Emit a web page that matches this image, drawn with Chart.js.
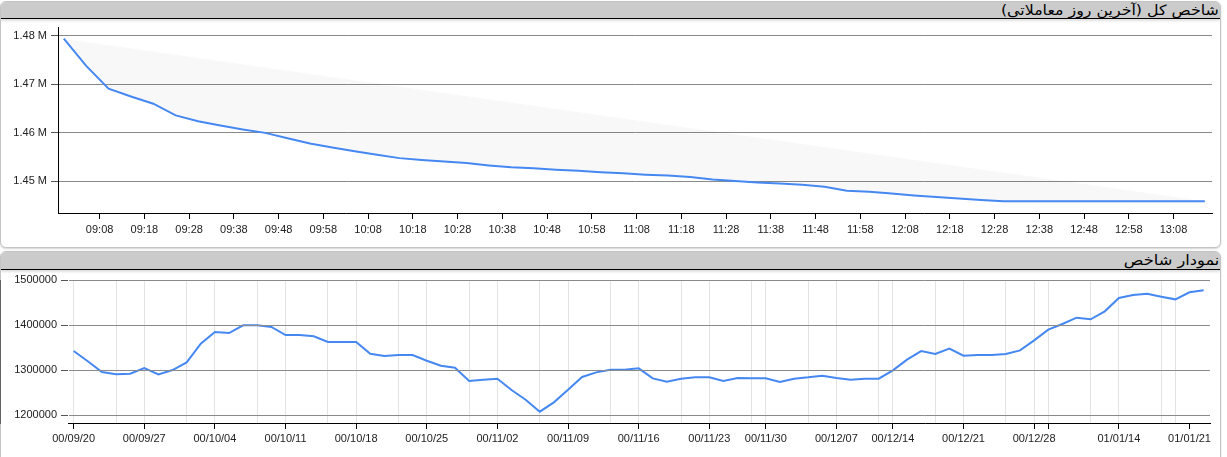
<!DOCTYPE html>
<html>
<head>
<meta charset="utf-8">
<script src="https://cdn.jsdelivr.net/npm/chart.js@4"></script>
<style>
  html,body{margin:0;padding:0;background:#fff;}
  body{width:1227px;height:457px;overflow:hidden;position:relative;font-family:"Liberation Sans",Arial,sans-serif;}
  .panel{position:absolute;left:0;width:1219px;border:1px solid #c4c4c4;border-radius:6px;box-shadow:0 1px 2px rgba(0,0,0,0.18);background:#fff;overflow:hidden;}
  .hdr{position:absolute;left:0;top:0;right:0;background:#cbcbcb;border-bottom:1px solid #000;box-shadow:0 2px 2px rgba(0,0,0,0.12);}
  .hdr span{position:absolute;right:1px;top:0;font-family:"DejaVu Sans",sans-serif;font-size:14px;color:#000;direction:rtl;white-space:nowrap;line-height:16px;transform-origin:right center;}
  canvas{position:absolute;left:0;}
</style>
</head>
<body>
<div class="panel" style="top:1px;height:245px;">
  <div class="hdr" style="height:16px;"><span style="transform:scaleX(1.13);">شاخص کل (آخرین روز معاملاتی)</span></div>
</div>
<div class="panel" style="top:251px;height:220px;">
  <div class="hdr" style="height:17px;"><span style="line-height:17px;transform:scaleX(1.16);">نمودار شاخص</span></div>
</div>
<canvas id="c1" width="1220" height="220" style="top:20px;width:1220px;height:220px;"></canvas>
<canvas id="c2" width="1220" height="185" style="top:272px;width:1220px;height:185px;"></canvas>
<script>
// ---------- Top chart: index during last trading day ----------
const topTimes = ['09:00','09:05','09:10','09:15','09:20','09:25','09:30','09:35','09:40','09:45',
  '09:50','09:55','10:00','10:05','10:10','10:15','10:20','10:25','10:30','10:35',
  '10:40','10:45','10:50','10:55','11:00','11:05','11:10','11:15','11:20','11:25',
  '11:30','11:35','11:40','11:45','11:50','11:55','12:00','12:05','12:10','12:15',
  '12:20','12:25','12:30','12:35','12:40','12:45','12:50','12:55','13:00','13:05',
  '13:10','13:15'];
const topValues = [1479400,1473800,1469100,1467500,1466000,1463600,1462400,1461500,1460700,1460000,
  1458900,1457800,1457000,1456200,1455500,1454800,1454400,1454100,1453800,1453300,
  1452900,1452700,1452400,1452200,1451900,1451700,1451400,1451200,1450900,1450400,
  1450100,1449800,1449600,1449300,1448900,1448100,1447900,1447500,1447100,1446800,
  1446500,1446200,1445900,1445900,1445900,1445900,1445900,1445900,1445900,1445900,
  1445900,1445900];
const topTimeTicks = ['09:08','09:18','09:28','09:38','09:48','09:58','10:08','10:18','10:28','10:38',
  '10:48','10:58','11:08','11:18','11:28','11:38','11:48','11:58','12:08','12:18',
  '12:28','12:38','12:48','12:58','13:08'];
const topYTicks = [1450000,1460000,1470000,1480000];
const topYLabels = ['1.45 M','1.46 M','1.47 M','1.48 M'];

// ---------- Bottom chart: index history ----------
const histValues = [1342200,1319500,1295600,1290400,1291900,1304400,1290400,1300000,1317000,1358500,
  1384400,1382200,1399300,1399300,1395600,1377800,1377800,1374800,1362200,1362200,
  1362200,1336300,1331100,1333300,1333300,1320700,1309600,1305200,1275600,1278500,
  1280800,1255600,1234100,1207400,1228200,1256300,1284500,1294800,1300700,1300700,
  1303700,1281500,1274100,1280800,1283700,1283700,1275600,1282200,1281500,1281500,
  1273300,1280800,1283700,1287400,1282200,1278500,1280800,1280800,1299300,1323000,
  1342200,1335600,1347400,1331900,1333300,1333300,1335600,1343700,1365900,1389600,
  1402200,1416300,1412600,1430400,1460000,1466700,1469600,1463000,1457000,1472600,
  1477000];
const dateTickIdx = [0,5,10,15,20,25,30,35,40,45,49,54,58,63,68,69,74,79];
const dateTickLabels = ['00/09/20','00/09/27','00/10/04','00/10/11','00/10/18','00/10/25','00/11/02',
  '00/11/09','00/11/16','00/11/23','00/11/30','00/12/07','00/12/14','00/12/21','00/12/28','',
  '01/01/14','01/01/21'];
const minorGridIdx = [0,3,5,8,10,13,15,18,20,23,25,28,30,33,35,38,40,43,45,48,49,52,54,57,58,61,63,66,68,69,72,74,77,78];
const histYTicks = [1200000,1300000,1400000,1500000];
const histYLabels = ['1200000','1300000','1400000','1500000'];

// ---------- helpers ----------
function toMin(s){ const p = s.split(':').map(Number); return (p[0]-9)*60 + p[1]; }
const LINE = '#4688f1';
const FONT = {family:'"Liberation Sans", Arial, sans-serif', size:11};
const TXT = '#222';
function noPadV(s){ s.paddingTop = 0; s.paddingBottom = 0; }
function noPadH(s){ s.paddingLeft = 0; s.paddingRight = 0; }

new Chart(document.getElementById('c1'), {
  type:'line',
  data:{
    datasets:[{
      data: topTimes.map((t,i)=>({x:toMin(t), y:topValues[i]})),
      borderColor: LINE, borderWidth: 2, pointRadius: 0, tension: 0,
      fill: 'shape', backgroundColor: 'rgba(0,0,0,0.028)'
    }]
  },
  options:{
    responsive:false, devicePixelRatio:1, animation:false,
    layout:{padding:{left:0,right:8,top:7,bottom:0}},
    plugins:{legend:{display:false}, tooltip:{enabled:false}},
    scales:{
      x:{
        type:'linear', min:-1.3, max:256.6,
        afterFit(s){ s.height = 27; noPadH(s); },
        afterBuildTicks(s){ s.ticks = topTimeTicks.map(t=>({value:toMin(t)})); },
        ticks:{autoSkip:false, maxRotation:0, padding:4, color:TXT, font:FONT,
          callback:(v,i)=>topTimeTicks[i]},
        grid:{drawOnChartArea:false, drawTicks:true, tickLength:6, tickColor:'#000', tickWidth:1},
        border:{display:true, color:'#000', width:1}
      },
      y:{
        min:1443500, max:1481800,
        afterFit(s){ s.width = 58; noPadV(s); },
        afterBuildTicks(s){ s.ticks = topYTicks.map(v=>({value:v})); },
        ticks:{padding:4, color:TXT, font:FONT, callback:(v,i)=>topYLabels[i]},
        grid:{color:'#8a8a8a', lineWidth:1, drawTicks:true, tickLength:7, tickColor:'#555'},
        border:{display:true, color:'#000', width:1}
      }
    }
  }
});

new Chart(document.getElementById('c2'), {
  type:'line',
  data:{
    datasets:[{
      data: histValues.map((v,i)=>({x:i, y:v})),
      borderColor: LINE, borderWidth: 2, pointRadius: 0, tension: 0, fill:false
    }]
  },
  options:{
    responsive:false, devicePixelRatio:1, animation:false,
    layout:{padding:{left:0,right:10,top:8,bottom:0}},
    plugins:{legend:{display:false}, tooltip:{enabled:false}},
    scales:{
      x:{
        type:'linear', min:-0.4, max:80.45,
        afterFit(s){ s.height = 34; noPadH(s); },
        afterBuildTicks(s){
          const all = Array.from(new Set(dateTickIdx.concat(minorGridIdx))).sort((a,b)=>a-b);
          s.ticks = all.map(v=>({value:v}));
        },
        ticks:{autoSkip:false, maxRotation:0, padding:3, color:TXT, font:FONT,
          callback:(v)=>{ const k = dateTickIdx.indexOf(v); return k>=0 ? dateTickLabels[k] : ''; }},
        grid:{
          drawOnChartArea:true, drawTicks:true, tickLength:6, lineWidth:1,
          color:(c)=> (c.tick && minorGridIdx.includes(c.tick.value)) ? '#e3e3e3' : 'rgba(0,0,0,0)',
          tickColor:(c)=> (c.tick && dateTickIdx.includes(c.tick.value)) ? '#000' : 'rgba(0,0,0,0)'
        },
        border:{display:true, color:'#000', width:1}
      },
      y:{
        min:1182300, max:1500000,
        afterFit(s){ s.width = 68; noPadV(s); },
        afterBuildTicks(s){ s.ticks = histYTicks.map(v=>({value:v})); },
        ticks:{padding:4, color:TXT, font:FONT, callback:(v,i)=>histYLabels[i]},
        grid:{color:'#8a8a8a', lineWidth:1, drawTicks:true, tickLength:7, tickColor:'#555', z:1},
        border:{display:true, color:'#000', width:1}
      }
    }
  }
});
</script>
</body>
</html>
